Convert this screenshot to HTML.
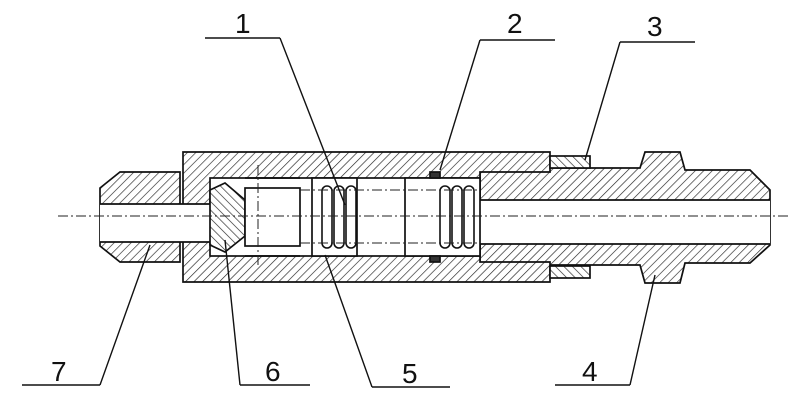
<!DOCTYPE html>
<html><head><style>body{margin:0;background:#fff}svg{display:block}text{font-family:"Liberation Sans",sans-serif;font-size:28px;fill:#111}</style></head><body>
<svg width="800" height="402" viewBox="0 0 800 402">
<defs>
<pattern id="h" width="6" height="6" patternUnits="userSpaceOnUse" patternTransform="rotate(45)"><rect width="6" height="6" fill="#fff"/><line x1="0" y1="0" x2="0" y2="6" stroke="#222" stroke-width="1.3"/></pattern>
<pattern id="h2" width="6" height="6" patternUnits="userSpaceOnUse" patternTransform="rotate(-45)"><rect width="6" height="6" fill="#fff"/><line x1="0" y1="0" x2="0" y2="6" stroke="#222" stroke-width="1.3"/></pattern>
</defs>
<g stroke="#111" stroke-width="1.7">
<polygon points="100,188 120,172 180,172 180,262 120,262 100,246" fill="url(#h)"/>
<polygon points="480,168 640,168 645,152 680,152 685,170 750,170 770,190 770,245 750,263 685,263 680,283 645,283 640,265 480,265" fill="url(#h)"/>
<polygon points="183,152 550,152 550,172 480,172 480,262 550,262 550,282 183,282" fill="url(#h)"/>
<rect x="550" y="156" width="40" height="12" fill="url(#h2)"/>
<rect x="550" y="266" width="40" height="12" fill="url(#h2)"/>
<rect x="210" y="178" width="270" height="78" fill="#fff"/>
<rect x="100" y="204" width="110" height="38" fill="#fff" stroke="none"/>
<line x1="100" y1="204" x2="210" y2="204"/><line x1="100" y1="242" x2="210" y2="242"/>
<rect x="480" y="200" width="290" height="44" fill="#fff" stroke="none"/>
<line x1="480" y1="200" x2="770" y2="200"/><line x1="480" y1="244" x2="770" y2="244"/>
<polygon points="210,190 225,183 245,200 245,236 225,252 210,245" fill="url(#h2)"/>
<rect x="245" y="188" width="55" height="58" fill="#fff"/>
<line x1="245" y1="178" x2="300" y2="178"/><line x1="245" y1="256" x2="300" y2="256"/>
<rect x="312" y="178" width="45" height="78" fill="#fff"/>
<rect x="405" y="178" width="75" height="78" fill="#fff"/>
<g fill="none" stroke-width="1.6">
<rect x="322" y="186" width="10" height="62" rx="5"/><rect x="334" y="186" width="10" height="62" rx="5"/><rect x="346" y="186" width="10" height="62" rx="5"/>
<rect x="440" y="186" width="10" height="62" rx="5"/><rect x="452" y="186" width="10" height="62" rx="5"/><rect x="464" y="186" width="10" height="62" rx="5"/>
</g>
<rect x="430" y="172" width="10" height="6" fill="#333"/>
<rect x="430" y="256" width="10" height="6" fill="#333"/>
</g>
<g stroke="#222" stroke-width="1" stroke-dasharray="10,3,2,3" fill="none">
<line x1="58" y1="216" x2="790" y2="216"/>
<line x1="258" y1="165" x2="258" y2="265"/>
<line x1="300" y1="190" x2="480" y2="190"/><line x1="300" y1="243" x2="480" y2="243"/>
</g>
<g stroke="#111" stroke-width="1.4" fill="none">
<line x1="205" y1="38" x2="280" y2="38"/><line x1="280" y1="38" x2="345" y2="205"/>
<line x1="480" y1="40" x2="555" y2="40"/><line x1="480" y1="40" x2="440" y2="170"/>
<line x1="620" y1="42" x2="695" y2="42"/><line x1="620" y1="42" x2="585" y2="160"/>
<line x1="22" y1="385" x2="100" y2="385"/><line x1="100" y1="385" x2="150" y2="245"/>
<line x1="240" y1="385" x2="310" y2="385"/><line x1="240" y1="385" x2="225" y2="240"/>
<line x1="372" y1="387" x2="450" y2="387"/><line x1="372" y1="387" x2="325" y2="255"/>
<line x1="555" y1="385" x2="630" y2="385"/><line x1="630" y1="385" x2="655" y2="275"/>
</g>
<text x="235" y="33">1</text><text x="507" y="33">2</text><text x="647" y="36">3</text>
<text x="51" y="381">7</text><text x="265" y="381">6</text><text x="402" y="383">5</text><text x="582" y="381">4</text>
</svg>
</body></html>
